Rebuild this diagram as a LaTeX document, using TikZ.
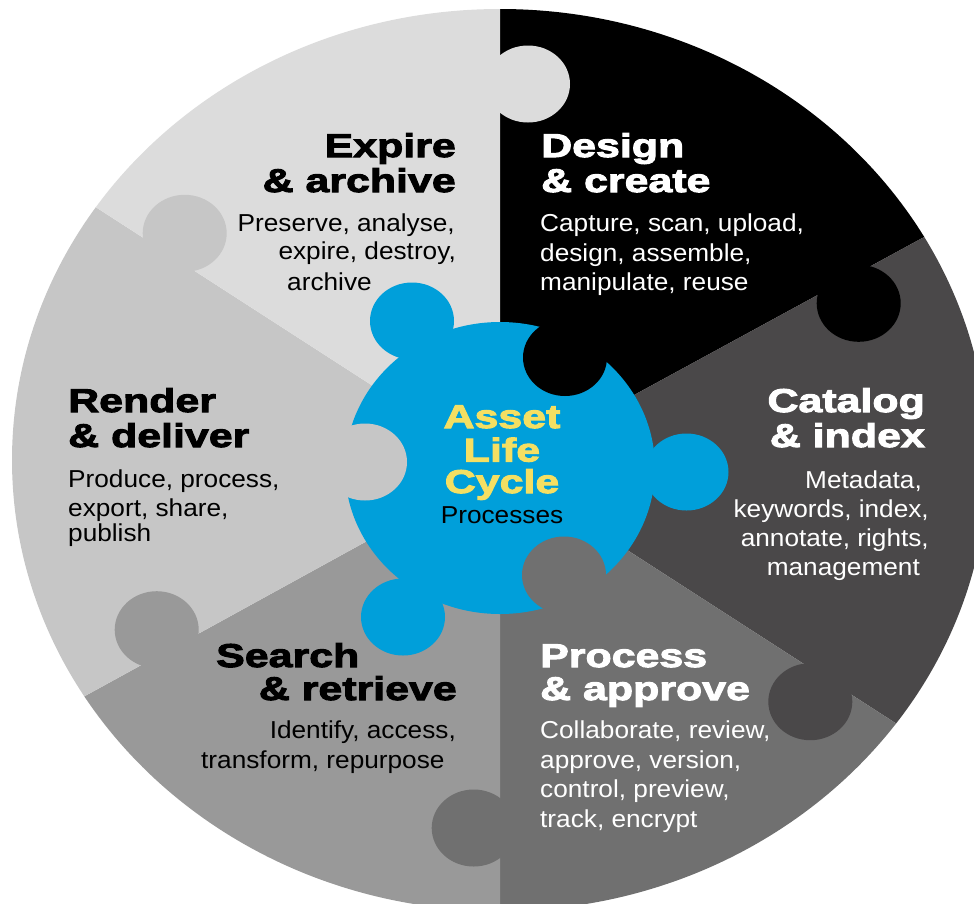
\documentclass[tikz,border=0pt]{standalone}
\usepackage{fontspec}
\newfontfamily\heavyf{Liberation Sans}[BoldFeatures={FakeStretch=1.3,FakeBold=3}]
\newfontfamily\bodyf{Liberation Sans}[FakeStretch=1.07]
\definecolor{cExp}{HTML}{DCDCDC}
\definecolor{cDes}{HTML}{000000}
\definecolor{cCat}{HTML}{4A4849}
\definecolor{cPro}{HTML}{707070}
\definecolor{cSea}{HTML}{999999}
\definecolor{cRen}{HTML}{C6C6C6}
\definecolor{cBlue}{HTML}{009FDA}
\definecolor{cYel}{HTML}{F4DF62}
\tikzset{
  knobsize/.style={x radius=42pt, y radius=38.5pt},
  titletext/.style={font=\heavyf\bfseries\fontsize{33}{35}\selectfont, inner sep=0pt},
  bodytext/.style={font=\bodyf\fontsize{24.5}{30}\selectfont, inner sep=0pt},
}
\begin{document}
\begin{tikzpicture}[x=1pt,y=-1pt]
\useasboundingbox (0,0) rectangle (974,903);
\coordinate (C) at (500,468);
\coordinate (T) at (500,-400);
\coordinate (UR) at (1765,-221);
\coordinate (LR) at (1680,1229);
\coordinate (B) at (500,1400);
\coordinate (LL) at (-745,1152);
\coordinate (UL) at (-715,-316);
\begin{scope}
  \clip (500,460) ellipse [x radius=488pt, y radius=451pt];
  \fill[cDes] (C) -- (T) -- (UR) -- cycle;
  \fill[cCat] (C) -- (UR) -- (LR) -- cycle;
  \fill[cPro] (C) -- (LR) -- (B) -- cycle;
  \fill[cSea] (C) -- (B) -- (LL) -- cycle;
  \fill[cRen] (C) -- (LL) -- (UL) -- cycle;
  \fill[cExp] (C) -- (UL) -- (T) -- cycle;
  % outer knobs
  \fill[cExp] (528,84) ellipse [knobsize];
  \fill[cDes] (858.7,303.3) ellipse [knobsize];
  \fill[cCat] (810.3,701.7) ellipse [knobsize];
  \fill[cPro] (473.7,828) ellipse [knobsize];
  \fill[cSea] (156.7,629.7) ellipse [knobsize];
  \fill[cRen] (184.7,233.3) ellipse [knobsize];
\end{scope}
% centre piece
\fill[cBlue] (500,468) ellipse [x radius=155pt, y radius=146pt];
\fill[cBlue] (412,321) ellipse [knobsize];
\fill[cBlue] (686.5,472) ellipse [knobsize];
\fill[cBlue] (403,617) ellipse [knobsize];
\fill[cDes] (565,357.5) ellipse [knobsize];
\fill[cRen] (365,462) ellipse [knobsize];
\fill[cPro] (564,575) ellipse [knobsize];
% Expire & archive
\node[titletext, anchor=base east] (e1) at (456,157) {Expire};
\node[titletext, anchor=base east] (e2) at (456,192) {\& archive};
\node[bodytext, anchor=base east] (e3) at (455,231.5) {Preserve, analyse,};
\node[bodytext, anchor=base east] (e4) at (456,259.5) {expire, destroy,};
\node[bodytext, anchor=base west] (e5) at (287,290) {archive};
% Design & create
\node[titletext, text=white, anchor=base west] (d1) at (541,157) {Design};
\node[titletext, text=white, anchor=base west] (d2) at (541,192) {\& create};
\node[bodytext, text=white, anchor=base west] (d3) at (540,231.5) {Capture, scan, upload,};
\node[bodytext, text=white, anchor=base west] (d4) at (540,261) {design, assemble,};
\node[bodytext, text=white, anchor=base west] (d5) at (540,290.5) {manipulate, reuse};
% Catalog & index
\node[titletext, text=white, anchor=base east] (c1) at (925,412) {Catalog};
\node[titletext, text=white, anchor=base east] (c2) at (925,447) {\& index};
\node[bodytext, text=white, anchor=base east] (c3) at (922,488) {Metadata,};
\node[bodytext, text=white, anchor=base east] (c4) at (929,517) {keywords, index,};
\node[bodytext, text=white, anchor=base east] (c5) at (929,546) {annotate, rights,};
\node[bodytext, text=white, anchor=base east] (c6) at (920,575) {management};
% Render & deliver
\node[titletext, anchor=base west] (r1) at (68,412) {Render};
\node[titletext, anchor=base west] (r2) at (68,447) {\& deliver};
\node[bodytext, anchor=base west] (r3) at (68,487) {Produce, process,};
\node[bodytext, anchor=base west] (r4) at (68,516) {export, share,};
\node[bodytext, anchor=base west] (r5) at (68,541) {publish};
% Search & retrieve
\node[titletext, anchor=base west] (s1) at (216,667) {Search};
\node[titletext, anchor=base east] (s2) at (457,700) {\& retrieve};
\node[bodytext, anchor=base east] (s3) at (456,738) {Identify, access,};
\node[bodytext, anchor=base west] (s4) at (201,768) {transform, repurpose};
% Process & approve
\node[titletext, text=white, anchor=base west] (p1) at (540,667) {Process};
\node[titletext, text=white, anchor=base west] (p2) at (540,700) {\& approve};
\node[bodytext, text=white, anchor=base west] (p3) at (540,738) {Collaborate, review,};
\node[bodytext, text=white, anchor=base west] (p4) at (540,768) {approve, version,};
\node[bodytext, text=white, anchor=base west] (p5) at (540,797) {control, preview,};
\node[bodytext, text=white, anchor=base west] (p6) at (540,827) {track, encrypt};
% centre text
\node[titletext, text=cYel, anchor=base] (m1) at (502,428) {Asset};
\node[titletext, text=cYel, anchor=base] (m2) at (502,461.5) {Life};
\node[titletext, text=cYel, anchor=base] (m3) at (502,493) {Cycle};
\node[bodytext, anchor=base] (m4) at (502,523) {Processes};
\end{tikzpicture}
\end{document}
